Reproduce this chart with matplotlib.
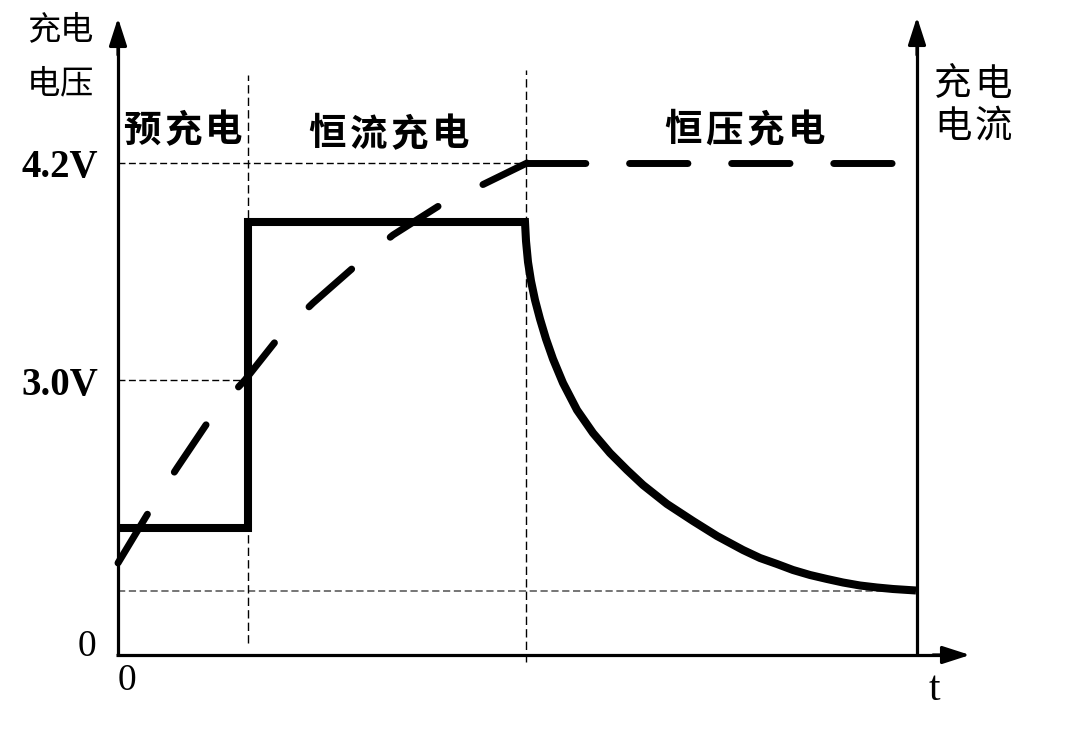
import matplotlib
matplotlib.use("Agg")
import matplotlib.pyplot as plt

# ---------------- data (schematic units: time t, level L) ----------------
phase_t = [0, 130, 408, 799]                 # phase boundaries / end of time axis
phase_names = ["预充电", "恒流充电", "恒压充电"]

# charging voltage (dashed): rising part then constant 4.2 V
volt_t = [0, 35, 59, 96, 127, 165, 195, 244, 275, 327, 364, 409, 775]
volt_L = [92, 150, 187, 242, 275, 323, 352, 395, 420, 453, 470, 492, 492]
volt_corner = 11                              # index where the plateau starts

# charging current (solid)
curr_t = [0, 130, 130, 407, 408, 410, 413, 417, 422, 428, 435, 445,
          459, 475, 492, 509, 525, 549, 575, 599, 625, 642, 659, 675, 692,
          709, 725, 742, 759, 775, 798]
curr_L = [127, 127, 433, 433, 414, 393, 374, 355, 336, 316, 296, 272,
          245, 222, 202, 185, 170, 151, 134, 119, 105, 97, 91, 85, 80,
          76, 72.5, 69.5, 67.5, 66, 64.5]

# y reference levels and labels
y_tick_levels = [0, 275, 492]
y_tick_labels = ["0", "3.0V", "4.2V"]
cutoff_level = 64
x_tick_label = "0"
x_axis_label = "t"
left_axis_label = ["充电", "电压"]
right_axis_label = ["充电", "电流"]

CJK = ["Noto Sans CJK SC", "DejaVu Sans"]
SERIF = ["Liberation Serif", "DejaVu Serif"]

fig = plt.figure(figsize=(10.81, 7.30), dpi=100)
ax = fig.add_axes([0, 0, 1, 1])
ax.set_xlim(-118, 963)
ax.set_ylim(-75, 655)
ax.axis("off")


def spaced_text(cx, cy, s, pitch, **kw):
    """Draw a CJK string with a fixed character pitch (in data units)."""
    n = len(s)
    for i, ch in enumerate(s):
        ax.text(cx + (i - (n - 1) / 2) * pitch, cy, ch, ha="center", va="center", **kw)


# ---------------- thin reference lines ----------------
thin = dict(color="black", lw=1.0, dashes=(5, 2.5))
ax.plot([0, phase_t[2]], [y_tick_levels[2]] * 2, **thin)
ax.plot([0, phase_t[1]], [y_tick_levels[1]] * 2, **thin)
ax.plot([0, phase_t[3]], [cutoff_level] * 2, color="#6a6a6a", lw=1.3, dashes=(4, 2))
ax.plot([phase_t[1]] * 2, [12, 580], color="black", lw=1.0, dashes=(6, 3))
ax.plot([phase_t[2]] * 2, [-7, 585], color="black", lw=1.0, dashes=(6, 3))

# ---------------- axes with arrows ----------------
axlw = 2.3
arrow = dict(arrowstyle="-|>,head_length=0.62,head_width=0.2", lw=axlw,
             color="black", shrinkA=0, shrinkB=0, mutation_scale=27)
ax.plot([0, 0], [0, 620], color="black", lw=axlw, solid_capstyle="butt")
ax.annotate("", xy=(0, 637), xytext=(0, 600), arrowprops=arrow)
ax.plot([phase_t[3]] * 2, [0, 620], color="black", lw=axlw, solid_capstyle="butt")
ax.annotate("", xy=(phase_t[3], 638), xytext=(phase_t[3], 600), arrowprops=arrow)
ax.plot([-2, 835], [0, 0], color="black", lw=axlw, solid_capstyle="butt")
ax.annotate("", xy=(852, 0), xytext=(815, 0), arrowprops=arrow)

# ---------------- curves ----------------
ax.plot(curr_t, curr_L, color="black", lw=5.8, solid_joinstyle="miter",
        solid_capstyle="butt", zorder=5)
vstyle = dict(color="black", lw=5.0, dash_capstyle="round",
              dash_joinstyle="round", zorder=6)
ax.plot(volt_t[:volt_corner + 1], volt_L[:volt_corner + 1], dashes=(8.2, 7.2), **vstyle)
ax.plot(volt_t[volt_corner:], volt_L[volt_corner:], dashes=(8.4, 6.3), **vstyle)

# ---------------- text ----------------
for lvl, lab in zip(y_tick_levels, y_tick_labels):
    if lab == "0":
        ax.text(-31, lvl + 8, lab, family=SERIF, fontsize=27,
                ha="center", va="center")
    else:
        ax.text(-58, lvl - 5, lab, family=SERIF, fontsize=28, fontweight="bold",
                ha="center", va="center")
ax.text(9, -26, x_tick_label, family=SERIF, fontsize=27, ha="center", va="center")
ax.text(816, -35, x_axis_label, family=SERIF, fontsize=30, ha="center", va="center")

spaced_text(-58, 624, left_axis_label[0], 33, family=CJK, fontsize=24)
spaced_text(-58, 570, left_axis_label[1], 33, family=CJK, fontsize=24)
spaced_text(855, 571, right_axis_label[0], 40, family=CJK, fontsize=27,
            fontweight="medium")
spaced_text(855, 529, right_axis_label[1], 40, family=CJK, fontsize=27,
            fontweight="medium")

phase_pos = [(65, 525), (271, 521), (627, 525)]
for (tx, ty), name in zip(phase_pos, phase_names):
    spaced_text(tx, ty, name, 41, family=CJK, fontsize=27, fontweight="bold")

fig.savefig("out.png", dpi=100)
